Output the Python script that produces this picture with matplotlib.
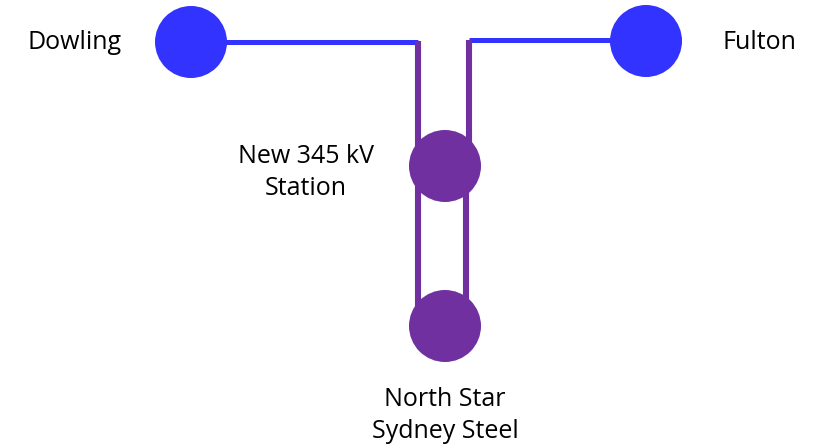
import matplotlib.pyplot as plt
from matplotlib.patches import Circle

# Stations: name, centre (pixel coords, y down) and colour group
stations = ["Dowling", "Fulton", "New 345 kV\nStation", "North Star\nSydney Steel"]
station_x = [191, 646, 445, 445]
station_y = [42, 41, 166, 326]
station_kind = ["existing", "existing", "new", "new"]

# Labels: anchor of the last line's baseline
label_x = [75, 759, 306, 445]
label_y = [49, 49, 195, 438]

# Line routes as (x list, y list)
blue_lines = [
    ([191, 418], [42, 42]),
    ([469, 646], [40, 40]),
]
purple_lines = [
    ([418, 418], [41, 326]),
    ([469, 469], [40, 166]),
    ([466, 466], [166, 326]),
]

BLUE = "#3333FF"
PURPLE = "#7030A0"
colors = {"existing": BLUE, "new": PURPLE}

fig = plt.figure(figsize=(8.23, 4.47), dpi=100)
ax = fig.add_axes([0, 0, 1, 1])
ax.set_xlim(0, 823)
ax.set_ylim(447, 0)
ax.set_aspect("equal")
ax.axis("off")

for xs, ys in blue_lines:
    ax.plot(xs, ys, color=BLUE, linewidth=3.6, solid_capstyle="butt", zorder=1)
for xs, ys in purple_lines:
    ax.plot(xs, ys, color=PURPLE, linewidth=4.4, solid_capstyle="butt", zorder=2)

for x, y, kind in zip(station_x, station_y, station_kind):
    ax.add_patch(Circle((x, y), 36, color=colors[kind], zorder=3, linewidth=0))

for name, x, y in zip(stations, label_x, label_y):
    ax.text(x, y, name, ha="center", va="baseline", fontsize=18,
            family="Open Sans", linespacing=1.35, color="black")

fig.savefig("out.png", dpi=100)
